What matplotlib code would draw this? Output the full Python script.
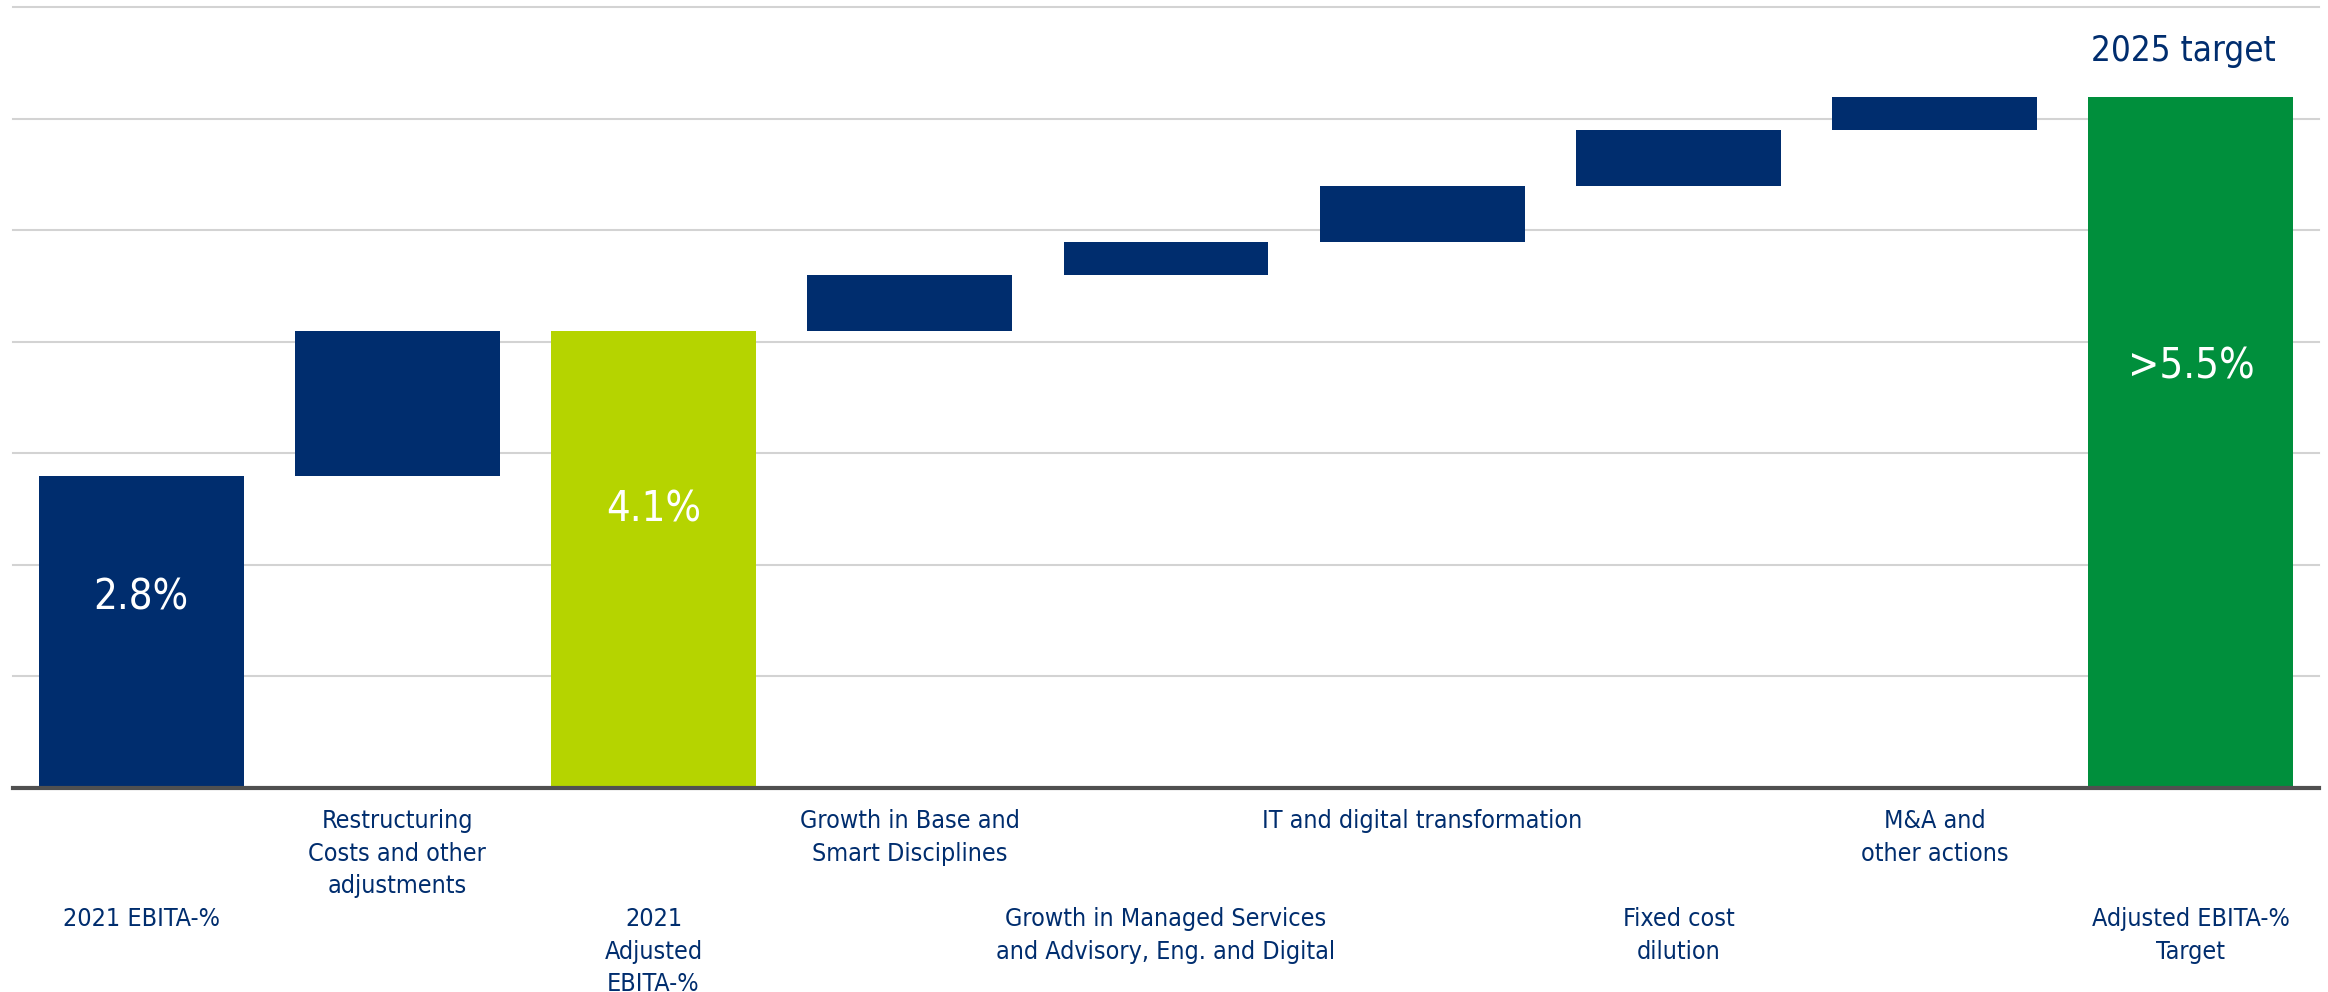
import numpy as np
import matplotlib
matplotlib.use("Agg")
import matplotlib.pyplot as plt

plt.rcParams['font.family'] = ['DejaVu Sans']
plt.rcParams['font.stretch'] = 'condensed'

# 数据：EBITA 瀑布图
labels = ["2021 EBITA-%",
          "Restructuring\nCosts and other\nadjustments",
          "2021\nAdjusted\nEBITA-%",
          "Growth in Base and\nSmart Disciplines",
          "Growth in Managed Services\nand Advisory, Eng. and Digital",
          "IT and digital transformation",
          "Fixed cost\ndilution",
          "M&A and\nother actions",
          "Adjusted EBITA-%\nTarget"]
steps = [2.8, 1.3, 0, 0.5, 0.3, 0.5, 0.5, 0.3, 0]   # 各段增量（0 表示合计柱）
totals = {0: 2.8, 2: 4.1, 8: 6.2}                    # 合计柱的高度
value_text = {0: "2.8%", 2: "4.1%", 8: ">5.5%"}
total_colors = {0: "#002D6E", 2: "#B5D400", 8: "#008F3C"}
navy = "#002D6E"

fig = plt.figure(figsize=(23.28, 9.92), dpi=100)
ax = fig.add_axes([13/2328, 1-788/992, (2319-13)/2328, (788-7.4)/992])

# 计算浮动柱的起点
bottoms, heights, colors = [], [], []
level = 0
for i, s in enumerate(steps):
    if i in totals:
        bottoms.append(0)
        heights.append(totals[i])
        colors.append(total_colors[i])
        level = totals[i]
    else:
        bottoms.append(level)
        heights.append(s)
        colors.append(navy)
        level += s

x = np.arange(len(labels))
ax.bar(x, heights, bottom=bottoms, width=0.8, color=colors, zorder=3)

for i, t in value_text.items():
    ax.text(i, totals[i]*0.61, t, color="white", fontsize=30,
            ha="center", va="center", zorder=4)

ax.text(7.97, 6.2 + 0.26, "2025 target", color=navy, fontsize=25,
        ha="center", va="bottom")

# 分类标签，上下交错
for i, lab in enumerate(labels):
    off = -119 if i % 2 == 0 else -21
    ax.annotate(lab, xy=(i, 0), xytext=(0, off), textcoords="offset pixels",
                ha="center", va="top", fontsize=18, color=navy,
                linespacing=1.45, annotation_clip=False)

ax.set_xlim(-0.5, 8.5)
ax.set_ylim(0, 7)
for yv in range(1, 8):
    ax.axhline(yv, color="#D3D3D3", lw=1.5, zorder=1, clip_on=False)
ax.axhline(0, color="#505050", lw=3, zorder=5, clip_on=False)

ax.set_xticks([])
ax.set_yticks([])
for sp in ax.spines.values():
    sp.set_visible(False)

fig.savefig("out.png", dpi=100)
